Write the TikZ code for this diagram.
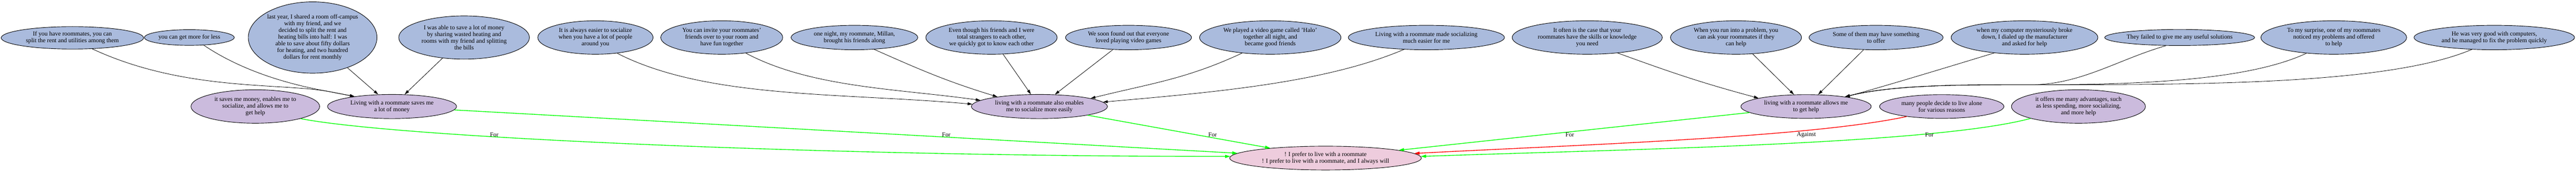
\documentclass[tikz,border=0pt]{standalone}
\usepackage{fontspec}
\setmainfont{Liberation Serif}
\usetikzlibrary{shapes.geometric}
\usetikzlibrary{arrows.meta}
\definecolor{premiseblue}{RGB}{170,187,221}
\definecolor{reasonlilac}{RGB}{203,187,221}
\definecolor{claimpink}{RGB}{238,204,221}
\tikzset{
  premise/.style={ellipse,draw=black,line width=0.4pt,fill=premiseblue,inner sep=0pt,align=center,font=\fontsize{5.2}{5.7}\selectfont},
  reason/.style={premise,fill=reasonlilac},
  claim/.style={premise,fill=claimpink},
  support/.style={black,line width=0.35pt,-{Triangle[length=4pt,width=2.4pt]}},
  pro/.style={green,line width=0.6pt,-{Triangle[length=4.5pt,width=2.6pt]}},
  con/.style={pro,red},
  edgetext/.style={font=\fontsize{5.2}{5.7}\selectfont,inner sep=0pt}
}
\begin{document}
\begin{tikzpicture}
\useasboundingbox (0,0) rectangle (76.88,5.13);
\node[premise,minimum width=4.25cm,minimum height=0.67cm] (a1) at (2.16,4.00) {If you have roommates, you can\\split the rent and utilities among them};
\node[premise,minimum width=2.68cm,minimum height=0.47cm] (a2) at (5.65,4.01) {you can get more for less};
\node[premise,minimum width=3.73cm,minimum height=2.13cm] (a3) at (9.33,4.01) {last year, I shared a room off-campus\\with my friend, and we\\decided to split the rent and\\heating bills into half: I was\\able to save about fifty dollars\\for heating, and two hundred\\dollars for rent monthly};
\node[premise,minimum width=3.90cm,minimum height=1.29cm] (a4) at (13.85,4.01) {I was able to save a lot of money\\by sharing wasted heating and\\rooms with my friend and splitting\\the bills};
\node[premise,minimum width=3.44cm,minimum height=1.00cm] (b1) at (17.77,4.01) {It is always easier to socialize\\when you have a lot of people\\around you};
\node[premise,minimum width=3.64cm,minimum height=1.00cm] (b2) at (21.54,4.01) {You can invite your roommates'\\friends over to your room and\\have fun together};
\node[premise,minimum width=3.78cm,minimum height=0.73cm] (b3) at (25.50,4.01) {one night, my roommate, Millan,\\brought his friends along};
\node[premise,minimum width=3.92cm,minimum height=1.00cm] (b4) at (29.59,4.01) {Even though his friends and I were\\total strangers to each other,\\we quickly got to know each other};
\node[premise,minimum width=3.76cm,minimum height=0.73cm] (b5) at (33.68,4.01) {We soon found out that everyone\\loved playing video games};
\node[premise,minimum width=4.22cm,minimum height=1.00cm] (b6) at (37.91,4.01) {We played a video game called 'Halo'\\together all night, and\\became good friends};
\node[premise,minimum width=4.66cm,minimum height=0.73cm] (b7) at (42.57,4.01) {Living with a roommate made socializing\\much easier for me};
\node[premise,minimum width=4.48cm,minimum height=1.00cm] (c1) at (47.37,4.01) {It often is the case that your\\roommates have the skills or knowledge\\you need};
\node[premise,minimum width=3.91cm,minimum height=1.00cm] (c2) at (51.81,4.01) {When you run into a problem, you\\can ask your roommates if they\\can help};
\node[premise,minimum width=4.00cm,minimum height=0.73cm] (c3) at (55.99,4.01) {Some of them may have something\\to offer};
\node[premise,minimum width=4.38cm,minimum height=1.00cm] (c4) at (60.42,4.01) {when my computer mysteriously broke\\down, I dialed up the manufacturer\\and asked for help};
\node[premise,minimum width=4.42cm,minimum height=0.48cm] (c5) at (65.05,4.01) {They failed to give me any useful solutions};
\node[premise,minimum width=4.35cm,minimum height=1.00cm] (c6) at (69.65,4.01) {To my surprise, one of my roommates\\noticed my problems and offered\\to help};
\node[premise,minimum width=4.79cm,minimum height=0.73cm] (c7) at (74.44,4.01) {He was very good with computers,\\and he managed to fix the problem quickly};

\node[reason,minimum width=3.84cm,minimum height=1.00cm] (m0) at (7.62,1.95) {it saves me money, enables me to\\socialize, and allows me to\\get help};
\node[reason,minimum width=3.85cm,minimum height=0.72cm] (m1) at (11.70,1.95) {Living with a roommate saves me\\a lot of money};
\node[reason,minimum width=4.06cm,minimum height=0.72cm] (m2) at (31.02,1.95) {living with a roommate also enables\\me to socialize more easily};
\node[reason,minimum width=3.89cm,minimum height=0.71cm] (m3) at (53.90,1.95) {living with a roommate allows me\\to get help};
\node[reason,minimum width=3.71cm,minimum height=0.71cm] (m4) at (57.95,1.95) {many people decide to live alone\\for various reasons};
\node[reason,minimum width=4.00cm,minimum height=1.00cm] (m5) at (62.03,1.95) {it offers me many advantages, such\\as less spending, more socializing,\\and more help};
\node[claim,minimum width=5.72cm,minimum height=0.71cm] (r) at (39.56,0.41) {! I prefer to live with a roommate\\! I prefer to live with a roommate, and I always will};

\coordinate (jm1) at (9.80,2.40);
\coordinate (jm3) at (60.60,2.60);
\draw[support] (a1.-29) to[out=-25,in=170,out distance=3cm,in distance=1.5cm] (jm1) -- (m1.165);
\draw[support] (a2.-28) to[out=-34,in=170,out distance=1.5cm,in distance=1cm] (jm1) -- (m1.165);
\draw[support] (a3) -- (m1);
\draw[support] (a4) -- (m1);
\draw[support] (b1.-36) to[out=-27,in=175,out distance=3cm,in distance=4cm] (m2.178);
\draw[support] (b2.-33) to[out=-28,in=172,out distance=2.2cm,in distance=2.5cm] (m2.174);
\draw[support] (b3.-31) to[out=-24,in=163] (m2.167);
\draw[support] (b4) -- (m2);
\draw[support] (b5) -- (m2);
\draw[support] (b6.209) to[out=205,in=14] (m2.9);
\draw[support] (b7.208) to[out=203,in=5,out distance=2.5cm,in distance=3.5cm] (m2.4);
\draw[support] (c1.-27) to[out=-20,in=165] (m3.170);
\draw[support] (c2) -- (m3);
\draw[support] (c3) -- (m3);
\draw[support] (c4.207) to[out=197,in=14,out distance=1.5cm,in distance=0.8cm] (m3.14);
\draw[support] (c5.211) to[out=196,in=0,out distance=1.5cm,in distance=1.5cm] (jm3) to[out=180,in=14,out distance=2cm,in distance=1.5cm] (m3.14);
\draw[support] (c6.210) to[out=205,in=0,out distance=2cm,in distance=3cm] (jm3) to[out=180,in=14,out distance=2cm,in distance=1.5cm] (m3.14);
\draw[support] (c7.208) to[out=203,in=0,out distance=2.7cm,in distance=5cm] (jm3) to[out=180,in=14,out distance=2cm,in distance=1.5cm] (m3.14);

\draw[pro] (m0.-15) to[out=-11,in=180,out distance=3cm,in distance=12cm] (r.179);
\draw[pro] (m1) -- (r);
\draw[pro] (m2) -- (r);
\draw[pro] (m3) -- (r);
\draw[con] (m4.196) to[out=-168,in=3,out distance=3cm,in distance=5cm] (r.3);
\draw[pro] (m5.194) to[out=-165,in=2,out distance=3cm,in distance=6cm] (r.1);

\node[edgetext] (l1) at (14.75,1.11) {For};
\node[edgetext] (l2) at (28.24,1.11) {For};
\node[edgetext] (l3) at (36.19,1.11) {For};
\node[edgetext] (l4) at (46.85,1.11) {For};
\node[edgetext] (l5) at (53.91,1.11) {Against};
\node[edgetext] (l6) at (57.58,1.11) {For};
\end{tikzpicture}
\end{document}
